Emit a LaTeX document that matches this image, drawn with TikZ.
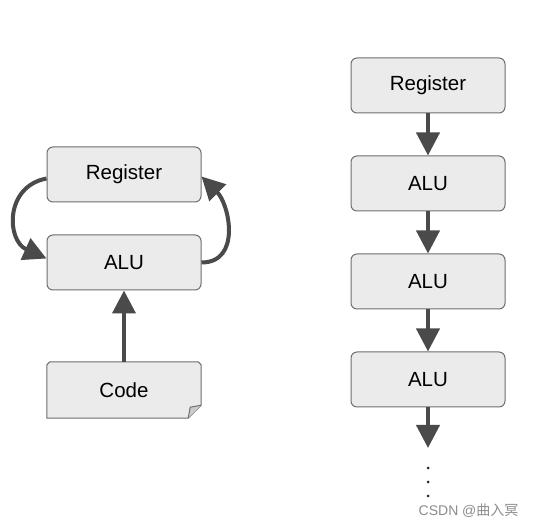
\documentclass[tikz,border=0pt]{standalone}
\usepackage{fontspec}
\setmainfont{Liberation Sans}
\newfontfamily\cjkfont{Noto Sans CJK SC}
\usetikzlibrary{arrows.meta,positioning}
\definecolor{boxfill}{HTML}{EBEBEB}
\definecolor{boxline}{HTML}{6E6E6E}
\definecolor{flowgray}{HTML}{4A4A4A}
\tikzset{
	unit/.style={draw=boxline, fill=boxfill, line width=1pt, rounded corners=6pt,
		minimum width=154pt, minimum height=55pt, font=\fontsize{20.5}{24}\selectfont},
	flow/.style={draw=flowgray, line width=4pt, -{Triangle[length=23pt,width=23pt]}}
}
\begin{document}
\begin{tikzpicture}[x=1pt,y=1pt]
	\useasboundingbox (0,0) rectangle (536,528);
	% left: one ALU used again and again
	\node [unit] (reg) at (124,353.5) {Register};
	\node [unit] (alu) at (124,265.5) {ALU};
	\node [minimum width=154pt, minimum height=56pt] (code) at (124,138) {};
	\draw [draw=boxline, fill=boxfill, line width=1pt]
		([xshift=3pt]code.north west) -- ([xshift=-3pt]code.north east)
		to[bend left=20] ([yshift=-3pt]code.north east) -- ([yshift=13pt]code.south east)
		-- ([xshift=-13pt]code.south east) -- (code.south west)
		-- ([yshift=-3pt]code.north west) to[bend left=20] cycle;
	\draw [draw=boxline, line width=1pt, fill=boxfill!70!gray]
		([yshift=13pt]code.south east) -- ([xshift=-11pt,yshift=11pt]code.south east)
		-- ([xshift=-13pt]code.south east);
	\node [font=\fontsize{20.5}{24}\selectfont] at (code) {Code};
	\draw [flow] (code.north) -- (alu.south);
	\draw [flow] ([yshift=-4pt]reg.west) .. controls +(-42,-8) and +(-40,18) .. ([yshift=4pt]alu.west);
	\draw [flow] (alu.east) .. controls +(40,0) and +(28,-28) .. ([yshift=-2pt]reg.east);

	% right: the same work unrolled
	\node [unit] (rreg) at (428,442.5) {Register};
	\node [unit, below=42pt of rreg] (ralu1) {ALU};
	\node [unit, below=42pt of ralu1] (ralu2) {ALU};
	\node [unit, below=42pt of ralu2] (ralu3) {ALU};
	\coordinate (rend) at (428,80);
	\draw [flow] (rreg) -- (ralu1);
	\draw [flow] (ralu1) -- (ralu2);
	\draw [flow] (ralu2) -- (ralu3);
	\draw [flow] (ralu3) -- (rend);
	\foreach \y in {60,46,32}
		\fill [black!85] (428,\y) circle (1.5pt);

	\node [text=black!45, font=\fontsize{14}{16}\selectfont, anchor=east] (mark) at (522,17) {CSDN @{\cjkfont 曲入冥}};
\end{tikzpicture}
\end{document}
